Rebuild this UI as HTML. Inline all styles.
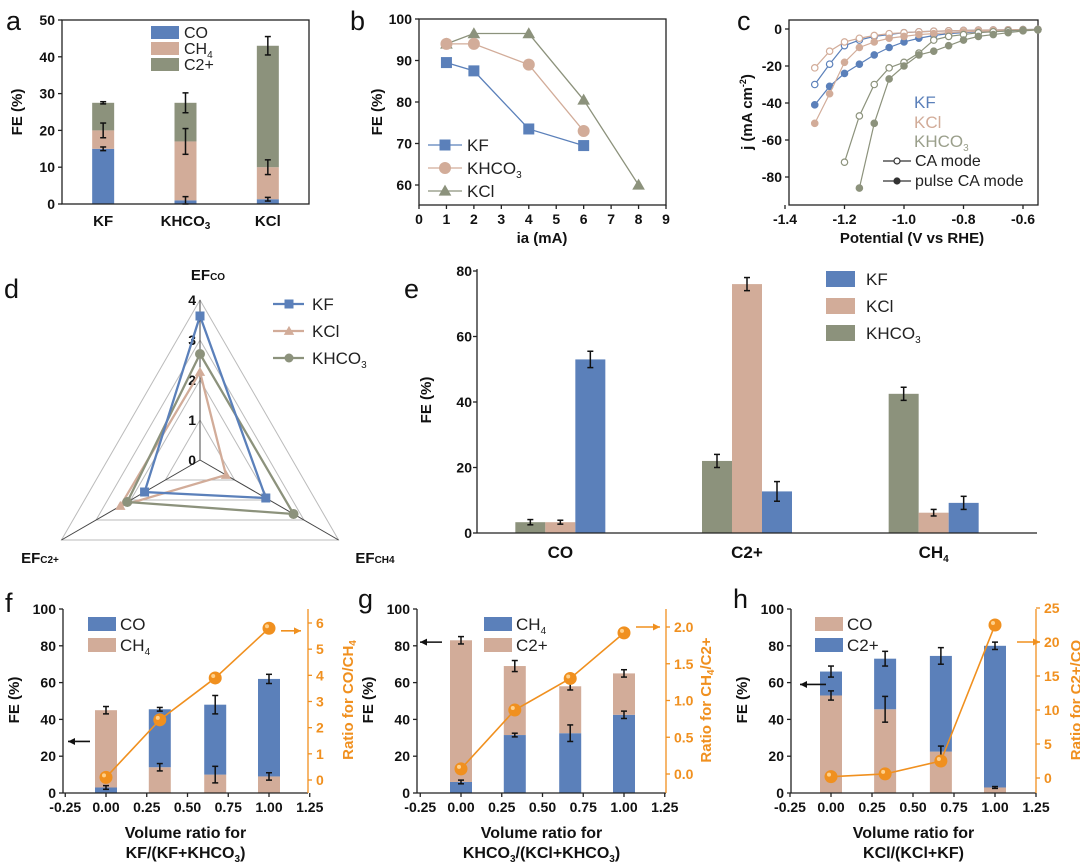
<!DOCTYPE html>
<html><head><meta charset="utf-8"><style>
html,body{margin:0;padding:0;background:#fff;}
svg{display:block;font-family:"Liberation Sans",Arial,sans-serif;}
.tk{font-size:14px;font-weight:bold;fill:#111;}
.ttl{font-size:15px;font-weight:bold;fill:#111;}
.lg{font-size:15px;fill:#222;}
.pl{font-size:27px;fill:#111;}
</style></head><body>
<svg id="fig" width="1080" height="862" viewBox="0 0 1080 862" xmlns="http://www.w3.org/2000/svg"></svg>
<script>
// ---------- data ----------
// panel a
const aCats=['KF','KHCO<tspan font-size="10" dy="3">3</tspan>','KCl'];
const aCO=[15,1,1.3];const aCOerr=[0.5,1,0.5];
const aCH4top=[20,17,10];const aCH4err=[2,3.5,2];
const aTotal=[27.5,27.5,43];const aTotErr=[0.3,2.7,2.5];
const aTicks=[0,10,20,30,40,50];
// panel b
const bKFx=[1,2,4,6];const bKFy=[89.5,87.5,73.5,69.5];
const bKHx=[1,2,4,6];const bKHy=[94,94,89,73];
const bKClx=[1,2,4,6,8];const bKCly=[94,96.5,96.5,80.5,60];
const bXT=[0,1,2,3,4,5,6,7,8,9];const bYT=[60,70,80,90,100];
// panel c
const cV=[-1.3,-1.25,-1.2,-1.15,-1.1,-1.05,-1.0,-0.95,-0.9,-0.85,-0.8,-0.75,-0.7,-0.65,-0.6,-0.55];
const cKFca=[-30,-19,-9,-6,-4,-3,-2,-1.5,-1.2,-1,-0.8,-0.6,-0.5,-0.4,-0.3,-0.2];
const cKFp=[-41,-31,-24,-19,-14,-10,-7,-5,-3.5,-2.5,-2,-1.6,-1.3,-1,-0.6,-0.3];
const cKClca=[-21,-12,-7,-5,-3.5,-2.5,-2,-1.5,-1.2,-1,-0.8,-0.6,-0.5,-0.4,-0.3,-0.2];
const cKClp=[-51,-35,-18,-10,-7,-5,-4,-3,-2.5,-2,-1.6,-1.3,-1,-0.8,-0.5,-0.3];
const cKHV=[-1.2,-1.15,-1.1,-1.05,-1.0,-0.95,-0.9,-0.85,-0.8,-0.75,-0.7,-0.65,-0.6,-0.55];
const cKHca=[-72,-47,-30,-21,-18,-13,-6,-4,-3,-2,-1.5,-1,-0.6,-0.3];
const cKHpV=[-1.15,-1.1,-1.05,-1.0,-0.95,-0.9,-0.85,-0.8,-0.75,-0.7,-0.65,-0.6,-0.55];
const cKHp=[-86,-51,-27,-20,-14,-12,-9,-6,-4,-3,-2,-1,-0.5];
const cXT=[-1.4,-1.2,-1.0,-0.8,-0.6];const cYT=[0,-20,-40,-60,-80];
// panel d
const dAxes=['CO','CH4','C2+'];
const dKF=[3.6,1.9,1.6];const dKCl=[2.2,0.75,2.3];const dKH=[2.65,2.7,2.1];
const dRing=[1,2,3,4];
// panel e
const eCats=['CO','C2+','CH<tspan font-size="10" dy="4">4</tspan>'];
const eKH=[3.3,22,42.5];const eKHerr=[0.8,2,2];
const eKCl=[3.3,76,6.2];const eKClerr=[0.6,2,1];
const eKF=[53,12.7,9.2];const eKFerr=[2.5,3,2];
const eYT=[0,20,40,60,80];
// panels f g h
const vx=[0,0.33,0.67,1.0];
const xT=[-0.25,0,0.25,0.5,0.75,1.0,1.25];
const fLow=[3,14,10,9];const fLowErr=[1,2,4.5,2];const fTot=[45,45.5,48,62];const fTotErr=[2,1,5,2.5];
const fRatio=[0.1,2.3,3.9,5.8];const fRT=[0,1,2,3,4,5,6];
const gLow=[6,31.5,32.5,42.5];const gLowErr=[1,1,4.5,2];const gTot=[83,69,58,65];const gTotErr=[2,3,2,2];
const gRatio=[0.07,0.87,1.3,1.92];const gRT=[0,0.5,1,1.5,2];
const hLow=[53,45.5,22.5,3];const hLowErr=[2.5,7,3,0.5];const hTot=[66,73,74.5,80];const hTotErr=[3,4,4.5,2];
const hRatio=[0.2,0.6,2.5,22.5];const hRT=[0,5,10,15,20,25];
const feT=[0,20,40,60,80,100];

// ---------- helpers ----------
const NS='http://www.w3.org/2000/svg';
const svg=document.getElementById('fig');
const BLUE='#5b80ba',BROWN='#d2ac99',GREEN='#8c927c',ORANGE='#f0901f';
function mk(tag,attrs,parent){const e=document.createElementNS(NS,tag);for(const k in attrs)e.setAttribute(k,attrs[k]);(parent||svg).appendChild(e);return e;}
function lin(d0,d1,r0,r1){return v=>r0+(v-d0)*(r1-r0)/(d1-d0);}
function grp(name){const g=mk('g',{});return g;}
function t(g,x,y,html,cls,anchor,extra){const e=mk('text',Object.assign({x:x,y:y,class:cls,'text-anchor':anchor||'middle'},extra||{}),g);e.innerHTML=html;return e;}
function ln(g,x1,y1,x2,y2,st,w){return mk('line',{x1:x1,y1:y1,x2:x2,y2:y2,stroke:st||'#222','stroke-width':w||1.3},g);}
function err(g,x,yTop,yBot){ln(g,x,yTop,x,yBot,'#111',1.5);ln(g,x-3,yTop,x+3,yTop,'#111',1.5);ln(g,x-3,yBot,x+3,yBot,'#111',1.5);}
function marker(g,type,x,y,fill,stroke,s){
  if(type==='sq')return mk('rect',{x:x-s,y:y-s,width:2*s,height:2*s,fill:fill,stroke:stroke||'none'},g);
  if(type==='tri')return mk('polygon',{points:`${x},${y-s*1.15} ${x-s*1.15},${y+s*0.85} ${x+s*1.15},${y+s*0.85}`,fill:fill,stroke:stroke||'none'},g);
  return mk('circle',{cx:x,cy:y,r:s,fill:fill,stroke:stroke||'none','stroke-width':1.2},g);
}
function yTicks(g,ticks,sy,x,fmt,out){ticks.forEach(v=>{ln(g,x,sy(v),x+(out||-4),sy(v));t(g,x-7,sy(v)+5,fmt?fmt(v):v,'tk','end');});}
function xTicks(g,ticks,sx,y,fmt){ticks.forEach(v=>{ln(g,sx(v),y,sx(v),y+4);t(g,sx(v),y+19,fmt?fmt(v):v,'tk','middle');});}
function vTitle(g,x,y,html,cls,fill){return t(g,x,y,html,cls||'ttl','middle',{transform:`rotate(-90 ${x} ${y})`,style:'fill:'+(fill||'#111')});}
function letter(x,y,s){const e=t(svg,x,y,s,'pl','start');}
function arrow(g,x1,x2,y,col){ln(g,x1,y,x2,y,col,1.6);const d=x2>x1?-7:7;mk('polygon',{points:`${x2},${y} ${x2+d},${y-3.5} ${x2+d},${y+3.5}`,fill:col},g);}

letter(6,30,'a');letter(350,30,'b');letter(737,30,'c');letter(4,298,'d');letter(404,298,'e');letter(5,612,'f');letter(358,608,'g');letter(733,608,'h');

// ---------- panel a ----------
(function(){
const g=grp('panel-a-stacked-bar');
const L=62,R=309,T=20,B=204;
const sy=lin(0,50,B,T);const band=(R-L)/aCats.length;const cx=i=>L+band*(i+0.5);const bw=22;
aCats.forEach((c,i)=>{
  let r=mk('rect',{x:cx(i)-bw/2,y:sy(aCO[i]),width:bw,height:B-sy(aCO[i]),fill:BLUE},g);
  
  r=mk('rect',{x:cx(i)-bw/2,y:sy(aCH4top[i]),width:bw,height:sy(aCO[i])-sy(aCH4top[i]),fill:BROWN},g);
  
  r=mk('rect',{x:cx(i)-bw/2,y:sy(aTotal[i]),width:bw,height:sy(aCH4top[i])-sy(aTotal[i]),fill:GREEN},g);
  
  err(g,cx(i),sy(aCO[i]+aCOerr[i]),sy(aCO[i]-aCOerr[i]));
  err(g,cx(i),sy(aCH4top[i]+aCH4err[i]),sy(aCH4top[i]-aCH4err[i]));
  err(g,cx(i),sy(aTotal[i]+aTotErr[i]),sy(aTotal[i]-aTotErr[i]));
  t(g,cx(i),B+22,c,'ttl');
});
mk('rect',{x:L,y:T,width:R-L,height:B-T,fill:'none',stroke:'#222','stroke-width':1.3},g);
yTicks(g,aTicks,sy,L);
vTitle(g,22,112,'FE (%)');
[['CO',BLUE],['CH<tspan font-size="10" dy="4">4</tspan>',BROWN],['C2+',GREEN]].forEach((l,i)=>{
  const s=mk('rect',{x:151,y:26+i*16,width:28,height:13,fill:l[1]},g);
  
  t(g,184,38+i*16,l[0],'lg','start',{style:'font-size:16px'});
});
})();

// ---------- panel b ----------
(function(){
const g=grp('panel-b-line-chart');
const L=419,R=666,T=19,B=205;
const sx=lin(0,9,L,R);const sy=lin(60,100,185,T);
mk('rect',{x:L,y:T,width:R-L,height:B-T,fill:'none',stroke:'#222','stroke-width':1.3},g);
xTicks(g,bXT,sx,B);yTicks(g,bYT,sy,L);
vTitle(g,382,112,'FE (%)');t(g,542,243,'ia (mA)','ttl');
const series=[[bKClx,bKCly,GREEN,'tri','kcl'],[bKHx,bKHy,BROWN,'c','khco3'],[bKFx,bKFy,BLUE,'sq','kf']];
series.forEach(s=>{
  const p=mk('polyline',{points:s[0].map((x,i)=>sx(x)+','+sy(s[1][i])).join(' '),fill:'none',stroke:s[2],'stroke-width':1.3},g);
  
  s[0].forEach((x,i)=>{const m=marker(g,s[3],sx(x),sy(s[1][i]),s[2],null,s[3]==='c'?6:5.5);});
});
[['KF',BLUE,'sq'],['KHCO<tspan font-size="10" dy="4">3</tspan>',BROWN,'c'],['KCl',GREEN,'tri']].forEach((l,i)=>{
  const y=145+i*23;ln(g,428,y,462,y,l[1],1.3);marker(g,l[2],445,y,l[1],null,l[2]==='c'?6:5.5);
  t(g,467,y+6,l[0],'lg','start',{style:'font-size:17px'});
});
})();

// ---------- panel c ----------
(function(){
const g=grp('panel-c-polarization-curves');
const L=789,R=1038,T=20,B=205;
const sx=lin(-1.4,-0.6,785,1023);const sy=lin(0,-80,29,177);
mk('rect',{x:L,y:T,width:R-L,height:B-T,fill:'none',stroke:'#222','stroke-width':1.3},g);
xTicks(g,cXT,sx,B,v=>v.toFixed(1));yTicks(g,cYT,sy,L);
vTitle(g,752,112,'j (mA cm<tspan font-size="9" dy="-6">-2</tspan><tspan dy="6">)</tspan>');
t(g,912,243,'Potential (V vs RHE)','ttl');
const ser=[[cV,cKFca,BLUE,false,'kf-ca'],[cV,cKFp,BLUE,true,'kf-pulse'],[cV,cKClca,BROWN,false,'kcl-ca'],[cV,cKClp,BROWN,true,'kcl-pulse'],[cKHV,cKHca,GREEN,false,'khco3-ca'],[cKHpV,cKHp,GREEN,true,'khco3-pulse']];
ser.forEach(s=>{
  const p=mk('polyline',{points:s[0].map((x,i)=>sx(x)+','+sy(s[1][i])).join(' '),fill:'none',stroke:s[2],'stroke-width':1.2},g);
  
  s[0].forEach((x,i)=>{const m=marker(g,'c',sx(x),sy(s[1][i]),s[3]?s[2]:'#fff',s[2],3.2);});
});
t(g,914,108,'KF','lg','start',{style:'font-size:17px;fill:#5b80ba'});
t(g,914,128,'KCl','lg','start',{style:'font-size:17px;fill:#d2ac99'});
t(g,914,147,'KHCO<tspan font-size="10" dy="4">3</tspan>','lg','start',{style:'font-size:17px;fill:#9a9f8b'});
ln(g,883,161,911,161,'#333',1.3);marker(g,'c',897,161,'#fff','#333',3);t(g,915,166,'CA mode','lg','start',{style:'font-size:16px'});
ln(g,883,181,911,181,'#333',1.3);marker(g,'c',897,181,'#333','#333',3);t(g,915,186,'pulse CA mode','lg','start',{style:'font-size:16px'});
})();

// ---------- panel d ----------
(function(){
const g=grp('panel-d-radar');
const cx=200,cy=460,sr=v=>v*40;
const ang=[-90,30,150].map(a=>a*Math.PI/180);
const pt=(k,v)=>[cx+sr(v)*Math.cos(ang[k]),cy+sr(v)*Math.sin(ang[k])];
dRing.forEach(v=>{mk('polygon',{points:[0,1,2].map(k=>pt(k,v).join(',')).join(' '),fill:'none',stroke:'#bbb','stroke-width':1},g);});
[0,1,2].forEach(k=>{const p=pt(k,4);ln(g,cx,cy,p[0],p[1],'#444',1);});
[0,1,2,3,4].forEach(v=>t(g,cx-4,cy-sr(v)+5,v,'tk','end'));
t(g,208,280,'EF<tspan font-size="10">CO</tspan>','ttl');
t(g,40,563,'EF<tspan font-size="10">C2+</tspan>','ttl');
t(g,375,563,'EF<tspan font-size="10">CH4</tspan>','ttl');
[[dKCl,BROWN,'tri','kcl'],[dKH,GREEN,'c','khco3'],[dKF,BLUE,'sq','kf']].forEach(s=>{
  const p=mk('polygon',{points:s[0].map((v,k)=>pt(k,v).join(',')).join(' '),fill:'none',stroke:s[1],'stroke-width':2.3},g);
  
  s[0].forEach((v,k)=>{const q=pt(k,v);const m=marker(g,s[2],q[0],q[1],s[1],null,s[2]==='c'?5:4.5);});
});
[['KF',BLUE,'sq'],['KCl',BROWN,'tri'],['KHCO<tspan font-size="10" dy="4">3</tspan>',GREEN,'c']].forEach((l,i)=>{
  const y=304+i*27;ln(g,273,y,304,y,l[1],2.3);marker(g,l[2],289,y,l[1],null,4.5);
  t(g,312,y+6,l[0],'lg','start',{style:'font-size:17px'});
});
})();

// ---------- panel e ----------
(function(){
const g=grp('panel-e-grouped-bar');
const L=477,R=1037,T=271,B=533;
const sy=lin(0,80,B,T);const band=(R-L)/3;const cx=i=>L+band*(i+0.5)-10;const bw=30;
const ser=[[eKH,eKHerr,GREEN,-1,'khco3'],[eKCl,eKClerr,BROWN,0,'kcl'],[eKF,eKFerr,BLUE,1,'kf']];
eCats.forEach((c,i)=>{
  ser.forEach(s=>{
    const x=cx(i)+s[3]*bw;
    const r=mk('rect',{x:x-bw/2,y:sy(s[0][i]),width:bw,height:B-sy(s[0][i]),fill:s[2]},g);
    
    err(g,x,sy(s[0][i]+s[1][i]),sy(s[0][i]-s[1][i]));
  });
  t(g,cx(i),558,c,'ttl','middle',{style:'font-size:17px'});
});
ln(g,L,T-2,L,B);ln(g,L,B,R,B);
eYT.forEach(v=>{ln(g,L,sy(v),L-4,sy(v));t(g,L-5,sy(v)+5,v,'tk','end');});
vTitle(g,431,400,'FE (%)');
[['KF',BLUE],['KCl',BROWN],['KHCO<tspan font-size="10" dy="4">3</tspan>',GREEN]].forEach((l,i)=>{
  const s=mk('rect',{x:826,y:271+i*27,width:29,height:16,fill:l[1]},g);
  
  t(g,866,285+i*27,l[0],'lg','start',{style:'font-size:17px'});
});
})();

// ---------- panels f g h ----------
function mixPanel(name,L,R,x0,x1,legOff,r0y,rTopV,rTopY,low,lowErr,tot,totErr,lowCols,topCols,ratio,rTicks,rFmt,rTitle,legend,arrowL,arrowR,xl1,xl2){
  const g=grp(name);
  const T=609,B=793;
  const sx=lin(0,1,x0,x1);const sy=lin(0,100,B,T);const sr=lin(0,rTopV,r0y,rTopY);const bw=22;
  vx.forEach((v,i)=>{
    let r=mk('rect',{x:sx(v)-bw/2,y:sy(low[i]),width:bw,height:B-sy(low[i]),fill:lowCols[i]},g);
    
    r=mk('rect',{x:sx(v)-bw/2,y:sy(tot[i]),width:bw,height:sy(low[i])-sy(tot[i]),fill:topCols[i]},g);
    
    err(g,sx(v),sy(low[i]+lowErr[i]),sy(low[i]-lowErr[i]));
    err(g,sx(v),sy(tot[i]+totErr[i]),sy(tot[i]-totErr[i]));
  });
  ln(g,L,T,L,B);ln(g,L,B,R,B);ln(g,R,T,R,B,ORANGE,1.3);
  xTicks(g,xT,sx,B,v=>v.toFixed(2));
  yTicks(g,feT,sy,L);
  rTicks.forEach(v=>{ln(g,R,sr(v),R+4,sr(v),ORANGE,1.3);t(g,R+8,sr(v)+5,rFmt(v),'tk','start',{style:'fill:'+ORANGE});});
  vTitle(g,L-44,700,'FE (%)');
  vTitle(g,R+45,700,rTitle,'ttl',ORANGE);
  const p=mk('polyline',{points:vx.map((v,i)=>sx(v)+','+sr(ratio[i])).join(' '),fill:'none',stroke:ORANGE,'stroke-width':1.6},g);
  
  vx.forEach((v,i)=>{const c=mk('circle',{cx:sx(v),cy:sr(ratio[i]),r:6.5,fill:ORANGE},g);
    mk('circle',{cx:sx(v)-2,cy:sr(ratio[i])-2,r:2,fill:'#ffd08a'},g);});
  legend.forEach((l,i)=>{const s=mk('rect',{x:L+legOff,y:617+i*21,width:28,height:14,fill:l[1]},g);
    
    t(g,L+legOff+32,630+i*21,l[0],'lg','start',{style:'font-size:17px'});});
  arrow(g,arrowL[1],arrowL[0],sy(arrowL[2]),'#111');
  arrow(g,arrowR[0],arrowR[1],sr(arrowR[2]),ORANGE);
  t(g,(L+R)/2,838,xl1,'ttl','middle',{style:'font-size:16px'});
  t(g,(L+R)/2,858,xl2,'ttl','middle',{style:'font-size:16px'});
}
const CH4='CH<tspan font-size="10" dy="4">4</tspan><tspan dy="-4"></tspan>';
mixPanel('panel-f',63,308,106,269,25,780,6,623,fLow,fLowErr,fTot,fTotErr,[BLUE,BROWN,BROWN,BROWN],[BROWN,BLUE,BLUE,BLUE],fRatio,fRT,v=>v,
 'Ratio for CO/CH<tspan font-size="10" dy="3">4</tspan>',[['CO',BLUE],[CH4,BROWN]],[68,90,28],[281,301,5.7],
 'Volume ratio for','KF/(KF+KHCO<tspan font-size="10" dy="4">3</tspan><tspan dy="-4">)</tspan>');
mixPanel('panel-g',417,666,461,624,67,774,2,627,gLow,gLowErr,gTot,gTotErr,[BLUE,BLUE,BLUE,BLUE],[BROWN,BROWN,BROWN,BROWN],gRatio,gRT,v=>v.toFixed(1),
 'Ratio for CH<tspan font-size="10" dy="3">4</tspan><tspan dy="-3">/C2+</tspan>',[[CH4,BLUE],['C2+',BROWN]],[420,442,82],[636,660,2.0],
 'Volume ratio for','KHCO<tspan font-size="10" dy="4">3</tspan><tspan dy="-4">/(KCl+KHCO</tspan><tspan font-size="10" dy="4">3</tspan><tspan dy="-4">)</tspan>');
mixPanel('panel-h',791,1036,831,995,24,778,25,608,hLow,hLowErr,hTot,hTotErr,[BROWN,BROWN,BROWN,BROWN],[BLUE,BLUE,BLUE,BLUE],hRatio,hRT,v=>v,
 'Ratio for C2+/CO',[['CO',BROWN],['C2+',BLUE]],[800,826,59],[1017,1040,20],
 'Volume ratio for','KCl/(KCl+KF)');
</script>
</body></html>
